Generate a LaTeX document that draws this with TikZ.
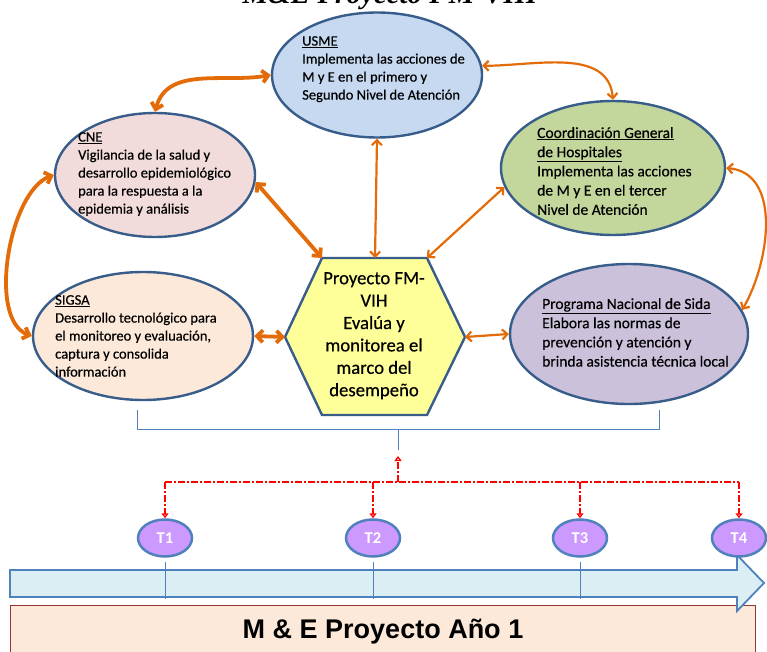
\documentclass[tikz,border=0pt]{standalone}
\usepackage{fontspec}
\setmainfont{Carlito}
\newfontfamily\efont{Carlito}[FakeBold=0.45]
\newfontfamily\titlefont{Liberation Serif}
\newfontfamily\heavyfont{Liberation Sans}
\usetikzlibrary{arrows.meta,shapes.geometric}
\definecolor{eborder}{HTML}{385D8A}
\definecolor{usmefill}{HTML}{C6D9F1}
\definecolor{cnefill}{HTML}{F2DCDB}
\definecolor{sigsafill}{HTML}{FDE9D9}
\definecolor{coordfill}{HTML}{C3D69B}
\definecolor{progfill}{HTML}{CCC1DA}
\definecolor{hexfill}{HTML}{FFFF99}
\definecolor{oarrowcol}{HTML}{E36C09}
\definecolor{tfill}{HTML}{CC99FF}
\definecolor{tblue}{HTML}{4F81BD}
\definecolor{tlfill}{HTML}{DAEEF3}
\definecolor{boxborder}{HTML}{953735}
\tikzset{
  ell/.style={ellipse, draw=eborder, line width=2.4pt, inner sep=0pt},
  etext/.style={anchor=north west, align=left, inner sep=0pt, font=\efont\fontsize{14.5}{18}\selectfont},
  etextb/.style={anchor=north west, align=left, inner sep=0pt, font=\efont\fontsize{15.5}{19.2}\selectfont},
  othick/.style={draw=oarrowcol, line width=3.8pt, {Straight Barb[length=6pt,width=12pt]}-{Straight Barb[length=6pt,width=12pt]}},
  othin/.style={draw=oarrowcol, line width=2.2pt, {Straight Barb[length=5pt,width=10pt]}-{Straight Barb[length=5pt,width=10pt]}},
  redline/.style={draw=red, line width=2pt, dash pattern=on 7pt off 2pt on 2pt off 2pt},
  redtip/.style={-{Triangle[open,length=5pt,width=7pt]}},
  tnode/.style={ellipse, draw=tblue, line width=2.5pt, fill=tfill, minimum width=54pt, minimum height=37pt, inner sep=0pt, text=white, font=\bfseries\fontsize{16.5}{18}\selectfont},
  bracket/.style={draw=tblue, line width=0.9pt},
  tick/.style={draw=tblue, line width=1pt}
}
\begin{document}
\begin{tikzpicture}[x=1pt,y=1pt]
\useasboundingbox (0,0) rectangle (767,-652);
\fill[white] (0,0) rectangle (767,-652);
% title (cut off at top, as in the reference)
\node[font=\titlefont\bfseries\itshape\fontsize{29}{30}\selectfont, anchor=base, inner sep=0pt] (title) at (390,-4) {M\&E Proyecto FM-VIH};
% ellipses
\node[ell, fill=usmefill, minimum width=210pt, minimum height=125pt] (usme) at (377,-75) {};
\node[ell, fill=cnefill, minimum width=200pt, minimum height=124pt] (cne) at (155,-175) {};
\node[ell, fill=sigsafill, minimum width=220pt, minimum height=128pt] (sigsa) at (143,-336) {};
\node[ell, fill=coordfill, minimum width=224pt, minimum height=134pt] (coord) at (613,-168) {};
\node[ell, fill=progfill, minimum width=238pt, minimum height=140pt] (prog) at (629,-334) {};
% hexagon
\coordinate (hexL) at (285,-337);
\coordinate (hexTL) at (322,-258);
\coordinate (hexT) at (375,-258);
\coordinate (hexTR) at (427,-258);
\coordinate (hexR) at (465,-337);
\coordinate (hexBR) at (427,-415);
\coordinate (hexBL) at (322,-415);
\draw[draw=eborder, line width=2.4pt, fill=hexfill, line join=miter] (hexL) -- (hexTL) -- (hexTR) -- (hexR) -- (hexBR) -- (hexBL) -- cycle;
% texts
\node[etext] (usmeT) at (302,-36) {\underline{USME}\\Implementa las acciones de\\M y E en el primero y\\Segundo Nivel de Atención};
\node[etext] (cneT) at (78,-132) {\underline{CNE}\\Vigilancia de la salud y\\desarrollo epidemiológico\\para la respuesta a la\\epidemia y análisis};
\node[etext] (sigsaT) at (55,-295) {\underline{SIGSA}\\Desarrollo tecnológico para\\el monitoreo y evaluación,\\captura y consolida\\información};
\node[etextb] (coordT) at (537,-127) {\underline{Coordinación General}\\\underline{de Hospitales}\\Implementa las acciones\\de M y E en el tercer\\Nivel de Atención};
\node[etextb] (progT) at (542,-298) {\underline{Programa Nacional de Sida}\\Elabora las normas de\\prevención y atención y\\brinda asistencia técnica local};
\node[anchor=north, align=center, inner sep=0pt, font=\efont\fontsize{18.7}{22.4}\selectfont] (hex) at (374,-272) {Proyecto FM-\\VIH\\Evalúa y\\monitorea el\\marco del\\desempeño};
% orange connectors
\draw[othick] (cne.north) to[out=75,in=190] (usme.west);
\draw[othick] (cne.west) to[out=200,in=160,looseness=0.75] (sigsa.west);
\draw[othick] (cne.-4) -- (hexTL);
\draw[othick] (sigsa.east) -- (hexL);
\draw[othin] (usme.south) -- (hexT);
\draw[othin] (coord.190) -- (hexTR);
\draw[othin] (usme.5) to[out=0,in=95] (coord.north);
\draw[othin] (coord.east) to[out=-5,in=60] (prog.12);
\draw[othin] (prog.west) -- (hexR);
% bracket
\coordinate (bl) at (137,-410);
\coordinate (blc) at (137,-429);
\coordinate (brc) at (659,-429);
\coordinate (br) at (659,-410);
\coordinate (bm) at (398,-429);
\coordinate (bstub) at (398,-450);
\draw[bracket] (bl) -- (blc) -- (brc) -- (br);
\draw[bracket] (bm) -- (bstub);
% bottom box
\node[draw=boxborder, line width=0.8pt, fill=sigsafill, minimum width=745pt, minimum height=60pt, anchor=north west, inner sep=0pt] (mbox) at (10,-605) {};
\node[font=\heavyfont\bfseries\fontsize{27}{30}\selectfont, inner sep=0pt] (mtext) at (383,-632) {M \& E Proyecto Año 1};
% timeline arrow
\draw[draw=tblue, line width=1.8pt, fill=tlfill, line join=miter] (10,-570) -- (737,-570) -- (737,-555) -- (764,-583) -- (737,-611) -- (737,-597) -- (10,-597) -- cycle;
% T nodes
\node[tnode] (t1) at (165,-538) {T1};
\node[tnode] (t2) at (373,-538) {T2};
\node[tnode] (t3) at (580,-538) {T3};
\node[tnode] (t4) at (739,-538) {T4};
\draw[tick] ([yshift=-4pt]t1.south) -- ++(0,-37);
\draw[tick] ([yshift=-4pt]t2.south) -- ++(0,-37);
\draw[tick] ([yshift=-4pt]t3.south) -- ++(0,-37);
% red dashed
\coordinate (jn) at (398,-482);
\draw[redline, redtip] (jn) -- ([yshift=-6pt]bstub);
\draw[redline] (t1.north |- jn) -- (t4.north |- jn);
\draw[redline, redtip] (t1.north |- jn) -- (t1.north);
\draw[redline, redtip] (t2.north |- jn) -- (t2.north);
\draw[redline, redtip] (t3.north |- jn) -- (t3.north);
\draw[redline, redtip] (t4.north |- jn) -- (t4.north);
\end{tikzpicture}
\end{document}
